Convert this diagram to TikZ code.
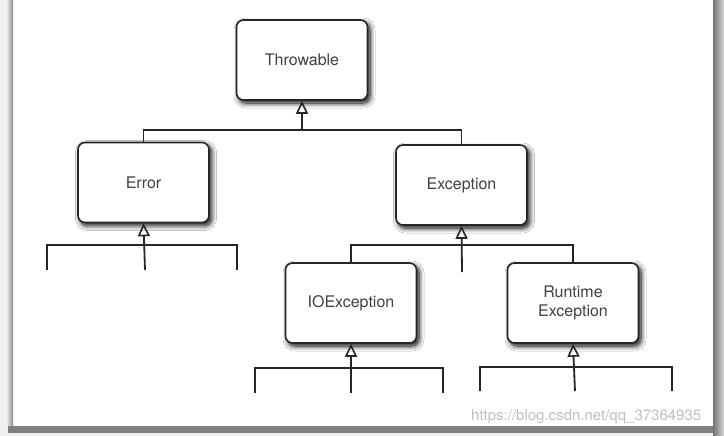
\documentclass[tikz,border=0pt]{standalone}
\usepackage{fontspec}
\setmainfont{TeX Gyre Heros}
\usetikzlibrary{arrows.meta,shadows.blur}

\tikzset{
  classbox/.style={draw=black!85, line width=1.6pt, rounded corners=7pt, fill=white,
    minimum width=131pt, minimum height=80pt, align=center,
    font=\fontsize{16}{19}\selectfont, text=black!75,
    blur shadow={shadow xshift=2.5pt, shadow yshift=-3pt, shadow blur radius=5pt,
      shadow blur steps=10, shadow opacity=100}},
  link/.style={draw=black!85, line width=1.8pt},
  isa/.style={link, -{Triangle[open, width=12pt, length=13pt, line width=1.6pt]}},
}

\begin{document}
\begin{tikzpicture}[x=1pt, y=-1pt]
  \useasboundingbox (0,0) rectangle (724,436);
  % scanned page
  \fill[black!6] (0,0) rectangle (724,436);
  \fill[white] (13,0) rectangle (713,426);
  \shade[left color=black!5, right color=black!45] (6,0) rectangle (13,426);
  \fill[black!50] (8,426) rectangle (724,433);

  % classes
  \node[classbox] (thr) at (302,60) {Throwable};
  \node[classbox] (err) at (143.5,182.5) {Error};
  \node[classbox] (exc) at (461.5,185) {Exception};
  \node[classbox] (ioe) at (351,303) {IOException};
  \node[classbox] (rte) at (573,303) {Runtime\\Exception};

  % Throwable
  \coordinate (jthr) at (302,130);
  \draw[link] (err.north) |- (jthr) -| (exc.north);
  \draw[isa] (jthr) -- (thr.south);

  % Error
  \coordinate (jerr) at (145,245);
  \coordinate (e1) at (47,270);
  \coordinate (e2) at (145,270);
  \coordinate (e3) at (237,270);
  \draw[link] (e1) |- (jerr) -| (e3);
  \draw[isa] (e2) -- (err.south);

  % Exception
  \coordinate (jexc) at (462,245);
  \coordinate (x2) at (462,272);
  \draw[link] (ioe.north) |- (jexc) -| (rte.north);
  \draw[isa] (x2) -- (exc.south);

  % IOException
  \coordinate (jioe) at (351,368);
  \coordinate (i1) at (255,393);
  \coordinate (i2) at (351,393);
  \coordinate (i3) at (443,393);
  \draw[link] (i1) |- (jioe) -| (i3);
  \draw[isa] (i2) -- (ioe.south);

  % RuntimeException
  \coordinate (jrte) at (575,367);
  \coordinate (r1) at (480,391);
  \coordinate (r2) at (575,391);
  \coordinate (r3) at (672,391);
  \draw[link] (r1) |- (jrte) -| (r3);
  \draw[isa] (r2) -- (rte.south);

  % watermark
  \node[anchor=west, text=black!25, font=\fontsize{15}{17}\selectfont, inner sep=0pt] (mark) at (471,417) {https://blog.csdn.net/qq\_37364935};
  \shade[left color=black!55, right color=black!15] (713,0) rectangle (724,436);
\end{tikzpicture}
\end{document}
